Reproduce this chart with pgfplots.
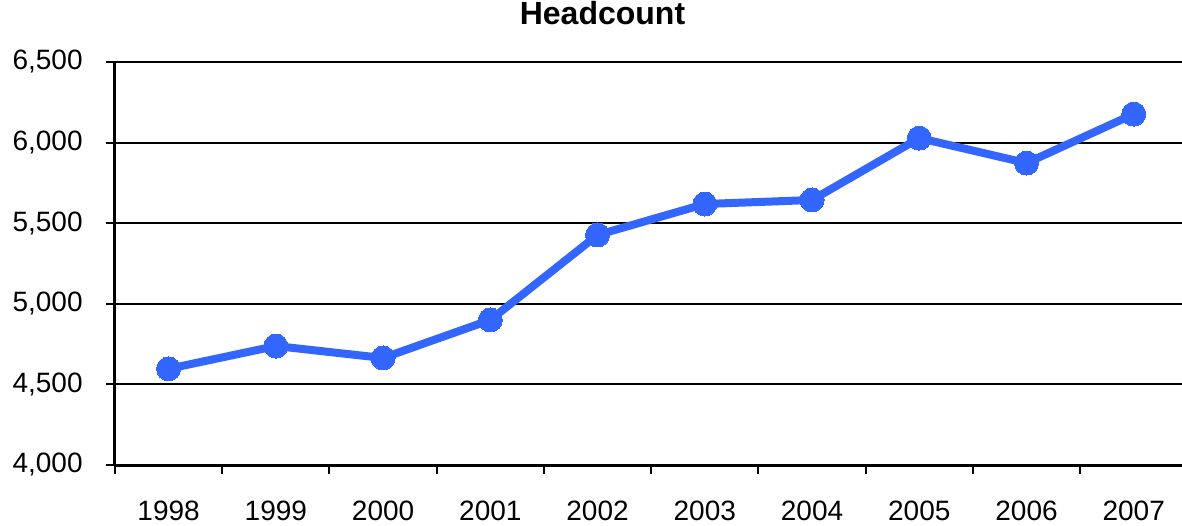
\documentclass[border=0pt]{standalone}
\usepackage{pgfplots}
\pgfplotsset{compat=1.18}
\usepackage{fontspec}
\setmainfont{Liberation Sans}
\usetikzlibrary{calc}
\definecolor{lineblue}{RGB}{51,102,255}

\begin{document}
\begin{tikzpicture}
\begin{axis}[
  width=533.5pt, height=201.5pt, scale only axis,
  xmin=-0.5, xmax=9.45, ymin=4000, ymax=6500,
  axis x line*=bottom, axis y line*=left,
  axis line style={-, line width=1.5pt},
  clip=false,
  tick align=outside, major tick length=4.5pt,
  tick style={black, line width=1pt},
  xtick={-0.5,0.5,...,8.5}, xticklabels={},
  extra x ticks={0,1,2,3,4,5,6,7,8,9},
  extra x tick labels={1998,1999,2000,2001,2002,2003,2004,2005,2006,2007},
  extra x tick style={major tick length=0pt},
  ytick={4000,4500,...,6500},
  scaled y ticks=false,
  /pgf/number format/.cd, 1000 sep={,}, assume math mode=true, /pgfplots/.cd,
  ymajorgrids, major grid style={black, line width=1pt},
  tick label style={font=\fontsize{14}{16}\selectfont},
  xticklabel style={anchor=base, yshift=-27.5pt},
  yticklabel style={anchor=east, inner sep=0pt, xshift=-11.5pt},
  title={\textbf{Headcount}},
  title style={at={(rel axis cs:0.4569,1)}, anchor=base, yshift=12.5pt, font=\fontsize{16}{18}\selectfont},
]
\addplot[lineblue, line width=4pt, mark=*, mark size=6pt,
  mark options={fill=lineblue, draw=lineblue, line width=0pt}] coordinates {
  (0,4597) (1,4738) (2,4664) (3,4900) (4,5427) (5,5619) (6,5644) (7,6028) (8,5873) (9,6177)
};
\coordinate (bl) at (rel axis cs:0,0);
\coordinate (tr) at (rel axis cs:1,1);
\end{axis}
\pgfresetboundingbox
\path[use as bounding box] ($(bl)+(-57.5pt,-30pt)$) rectangle ($(tr)+(0pt,31pt)$);
\end{tikzpicture}
\end{document}
